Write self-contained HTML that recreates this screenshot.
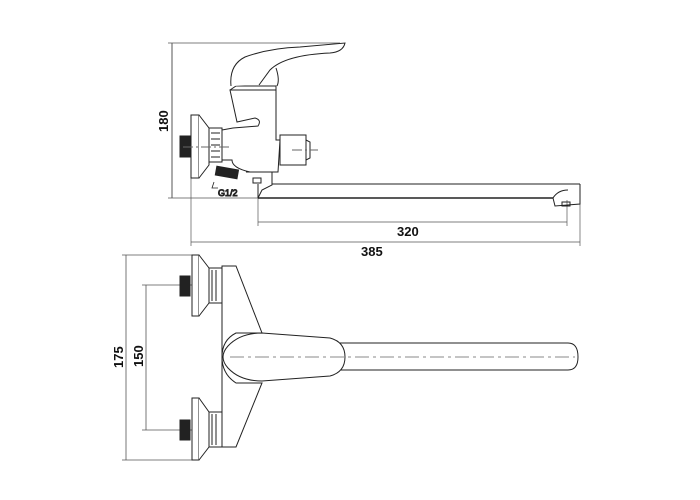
<!DOCTYPE html>
<html><head><style>html,body{margin:0;padding:0;background:#fff}svg{display:block}text{font-family:"Liberation Sans",Arial,sans-serif;font-weight:bold;font-size:13px;fill:#111}</style></head>
<body>
<svg width="700" height="500" viewBox="0 0 700 500" xmlns="http://www.w3.org/2000/svg">
<g stroke="#222" stroke-width="1" fill="none">
<!-- TOP VIEW dimensions -->
<line x1="172" y1="43" x2="172" y2="198" stroke="#555"/>
<line x1="168" y1="43" x2="340" y2="43" stroke="#555" stroke-width="0.7"/>
<line x1="168" y1="198" x2="258" y2="198" stroke="#555" stroke-width="0.7"/>
<line x1="191" y1="178" x2="191" y2="246" stroke="#555" stroke-width="0.7"/>
<line x1="258" y1="190" x2="258" y2="226" stroke="#555" stroke-width="0.7"/>
<line x1="567" y1="200" x2="567" y2="226" stroke="#555" stroke-width="0.7"/>
<line x1="580" y1="198" x2="580" y2="246" stroke="#555" stroke-width="0.7"/>
<line x1="258" y1="222" x2="567" y2="222" stroke="#555" stroke-width="0.7"/>
<line x1="191" y1="242" x2="580" y2="242" stroke="#555" stroke-width="0.7"/>
<!-- flange -->
<rect x="191" y="115" width="8" height="63" fill="#fff"/>
<path d="M199 115 L209 128 L209 165 L199 178" fill="#fff"/>
<rect x="180" y="136" width="11" height="21" fill="#222"/>
<rect x="209" y="128" width="13" height="34" fill="#fff"/>
<line x1="211" y1="133" x2="220" y2="133"/><line x1="211" y1="139" x2="220" y2="139"/><line x1="211" y1="145" x2="220" y2="145"/><line x1="211" y1="151" x2="220" y2="151"/><line x1="211" y1="157" x2="220" y2="157"/>
<!-- body -->
<path d="M222 130 L233 128 L258 126 Q262 120 255 118 L237 122 L230 90 L276 90 L276 140 L280 140 L278 172 L250 172 Q232 168 232 160 L222 160 Z" fill="#fff"/>
<path d="M230 90 L236 86 L276 86 L276 90"/>
<!-- handle -->
<path d="M231 86 Q229 65 245 57 Q270 48 300 47 L345 43 Q343 52 330 53 Q285 55 270 70 L259 85" fill="#fff"/>
<path d="M276 68 Q280 80 277 86"/>
<!-- right cylinder -->
<rect x="280" y="135" width="26" height="30" fill="#fff"/>
<path d="M306 140 L310 142 L310 158 L306 160"/>
<line x1="292" y1="150" x2="318" y2="150" stroke-dasharray="10,3,2,3" stroke="#666"/>
<!-- G1/2 fitting -->
<rect x="216" y="168" width="22" height="9" fill="#222" transform="rotate(10 227 172)"/>
<path d="M214 182 L212 188 L218 188" stroke-width="0.8"/>
<text x="218" y="196" style="font-size:9px;font-weight:normal">G1/2</text>
<line x1="183" y1="147" x2="230" y2="147" stroke-dasharray="10,3,2,3" stroke="#666"/>
<!-- spout -->
<path d="M246 172 L272 172 L272 185 L262 190 L258 198 L258 184" fill="#fff"/>
<rect x="253" y="178" width="8" height="5"/>
<line x1="272" y1="184" x2="580" y2="184"/>
<line x1="258" y1="198" x2="553" y2="198" stroke-width="1.4"/>
<path d="M580 184 L580 204 L555 206 L553 198 Q558 190 568 190"/>
<rect x="562" y="202" width="8" height="4"/>
<!-- BOTTOM VIEW dims -->
<line x1="126" y1="255" x2="126" y2="460" stroke="#555" stroke-width="0.8"/>
<line x1="122" y1="255" x2="198" y2="255" stroke="#555" stroke-width="0.7"/>
<line x1="122" y1="460" x2="198" y2="460" stroke="#555" stroke-width="0.7"/>
<line x1="146" y1="285" x2="146" y2="430" stroke="#555" stroke-width="0.8"/>
<line x1="142" y1="285" x2="228" y2="285" stroke="#555" stroke-width="0.7"/>
<line x1="142" y1="430" x2="228" y2="430" stroke="#555" stroke-width="0.7"/>
<!-- body -->
<path d="M222 266 L236 266 L262 333 L236 333 Q222 340 222 357 Q222 374 236 383 L262 383 L236 447 L222 447 Z" fill="#fff"/>
<!-- upper flange -->
<rect x="192" y="255" width="7" height="61" fill="#fff"/>
<path d="M199 255 L209 268 L209 303 L199 316" fill="#fff"/>
<rect x="180" y="276" width="10" height="20" fill="#222"/>
<rect x="209" y="268" width="13" height="35" fill="#fff"/>
<line x1="212" y1="270" x2="212" y2="301"/><line x1="216" y1="270" x2="216" y2="301"/>
<!-- lower flange -->
<rect x="192" y="398" width="7" height="62" fill="#fff"/>
<path d="M199 398 L209 412 L209 447 L199 460" fill="#fff"/>
<rect x="180" y="420" width="10" height="20" fill="#222"/>
<rect x="209" y="412" width="13" height="35" fill="#fff"/>
<line x1="212" y1="414" x2="212" y2="445"/><line x1="216" y1="414" x2="216" y2="445"/>
<!-- pipe -->
<path d="M340 343 L568 343 Q578 343 578 357 Q578 370 568 370 L340 370"/>
<!-- handle oval -->
<path d="M228 346 Q240 333 262 333 L330 338 Q345 342 345 357 Q345 372 330 376 L262 381 Q240 381 228 368 Q218 357 228 346 Z" fill="#fff"/>
<line x1="230" y1="357" x2="575" y2="357" stroke="#888" stroke-dasharray="14,4,3,4"/>
</g>
<text x="0" y="0" transform="translate(168,132) rotate(-90)">180</text>
<text x="397" y="236">320</text>
<text x="361" y="256">385</text>
<text x="0" y="0" transform="translate(123,368) rotate(-90)">175</text>
<text x="0" y="0" transform="translate(143,367) rotate(-90)">150</text>
</svg>
</body></html>
